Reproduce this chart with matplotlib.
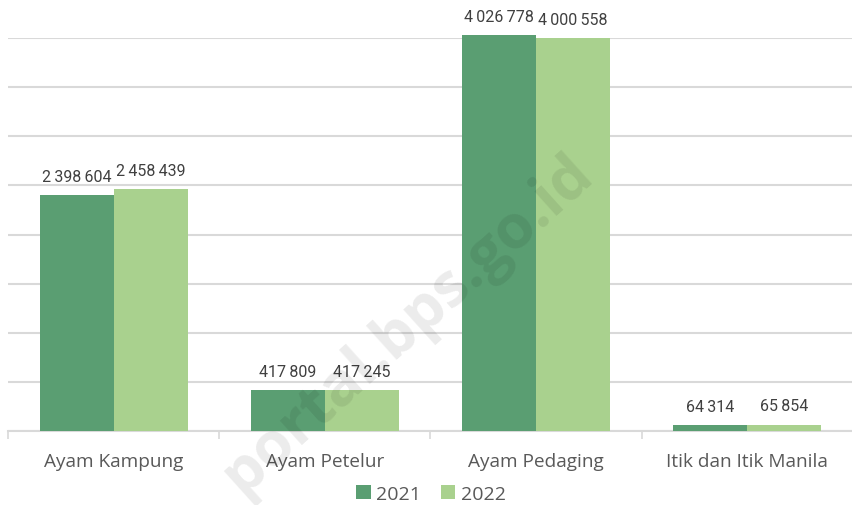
import numpy as np
import matplotlib
matplotlib.use('Agg')
import matplotlib.pyplot as plt
from matplotlib.ticker import MultipleLocator

categories = ['Ayam Kampung', 'Ayam Petelur', 'Ayam Pedaging', 'Itik dan Itik Manila']
years = ['2021', '2022']
values_2021 = [2398604, 417809, 4026778, 64314]
values_2022 = [2458439, 417245, 4000558, 65854]
colors = ['#5a9e72', '#a9d18e']

text_color = '#595959'
grid_color = '#d9d9d9'


def fmt(v):
    # thousands separated by a thin space
    return f'{v:,}'.replace(',', '\u2009')


fig = plt.figure(figsize=(8.53, 5.06), dpi=100)
ax = fig.add_axes([8 / 853, 74 / 506, 845 / 853, (432 - 39) / 506])

x = np.arange(len(categories))
width = 0.35
series = [values_2021, values_2022]
for i, vals in enumerate(series):
    pos = x + (i - 0.5) * width
    bars = ax.bar(pos, vals, width=width, color=colors[i], label=years[i],
                  zorder=3, clip_on=False)
    for b, v in zip(bars, vals):
        ax.annotate(fmt(v), (b.get_x() + b.get_width() / 2, v),
                    xytext=(0, 8), textcoords='offset points',
                    ha='center', va='bottom', fontsize=11.5, color='#404040',
                    family=['Roboto', 'DejaVu Sans'], annotation_clip=False)

ax.set_xlim(-0.5, len(categories) - 0.5)
ax.set_ylim(0, 4000000)
ax.yaxis.set_major_locator(MultipleLocator(500000))
ax.grid(axis='y', color=grid_color, linewidth=1.5, zorder=0)
ax.set_yticklabels([])
ax.tick_params(axis='y', length=0)

ax.set_xticks(x)
ax.set_xticklabels(categories, fontsize=13.7, color=text_color, family='Open Sans')
ax.tick_params(axis='x', length=0, pad=15)
ax.set_xticks(np.arange(len(categories) + 1) - 0.5, minor=True)
ax.tick_params(axis='x', which='minor', length=6, color=grid_color, width=1.2)

for s in ['top', 'right', 'left']:
    ax.spines[s].set_visible(False)
ax.spines['bottom'].set_color(grid_color)
ax.spines['bottom'].set_linewidth(1.5)

leg = fig.legend(loc='center', bbox_to_anchor=(431 / 853, 1 - 495 / 506), ncol=2,
                 frameon=False, handlelength=0.75, handleheight=0.75,
                 handletextpad=0.3, columnspacing=1.0,
                 prop={'family': 'Open Sans', 'size': 14})
for t in leg.get_texts():
    t.set_color(text_color)

# watermark
fig.text(408 / 853, 1 - 325 / 506, 'portal.bps.go.id', fontsize=44, fontweight='bold',
         family='Open Sans', color='black', alpha=0.08, rotation=42,
         ha='center', va='center', zorder=10)

fig.savefig('out.png', dpi=100)
